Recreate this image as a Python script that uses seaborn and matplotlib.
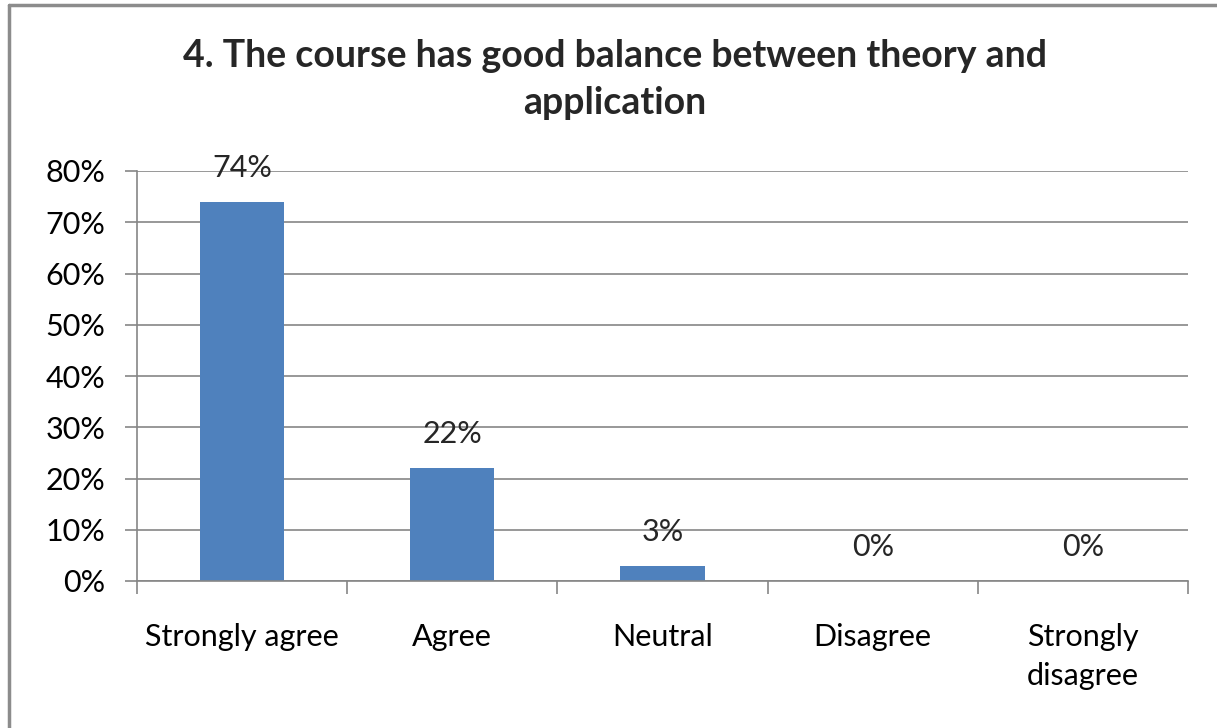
import matplotlib
matplotlib.use("Agg")
import matplotlib.pyplot as plt
from matplotlib.lines import Line2D
from matplotlib.ticker import FixedLocator, PercentFormatter
import seaborn as sns
import pandas as pd

# survey answers
categories = ["Strongly agree", "Agree", "Neutral", "Disagree", "Strongly\ndisagree"]
percentages = [74, 22, 3, 0, 0]
y_ticks = [0, 10, 20, 30, 40, 50, 60, 70, 80]
title = "4. The course has good balance between theory and\napplication"

sns.set_style("white")
plt.rcParams['font.family'] = ['Lato', 'DejaVu Sans']

df = pd.DataFrame({"answer": categories, "pct": percentages})

fig = plt.figure(figsize=(12.17, 7.28), dpi=100)
ax = fig.add_axes([137 / 1217, 1 - 581 / 728, (1188 - 137) / 1217, (581 - 171) / 728])

sns.barplot(data=df, x="answer", y="pct", color="#4F81BD", width=0.4,
            saturation=1, ax=ax, edgecolor="none")

ax.set_xlim(-0.5, len(categories) - 0.5)
ax.set_ylim(0, 80)
ax.set_xlabel("")
ax.set_ylabel("")

# grid + axes in excel grey
grey = "#868686"
ax.yaxis.set_major_locator(FixedLocator(y_ticks))
ax.yaxis.set_major_formatter(PercentFormatter(decimals=0))
ax.grid(axis="y", color=grey, linewidth=1.2)
ax.set_axisbelow(True)
for side in ["top", "right"]:
    ax.spines[side].set_visible(False)
for side in ["left", "bottom"]:
    ax.spines[side].set_color(grey)
    ax.spines[side].set_linewidth(1.2)

ax.tick_params(axis="y", length=9, width=1.2, color=grey, pad=14,
               labelsize=22, labelcolor="black", direction="out", left=True)
ax.tick_params(axis="x", which="major", length=0, pad=30, labelsize=22,
               labelcolor="black")
for lab in ax.get_xticklabels():
    lab.set_linespacing(1.5)
ax.xaxis.set_minor_locator(FixedLocator([i - 0.5 for i in range(len(categories) + 1)]))
ax.tick_params(axis="x", which="minor", length=9, width=1.2, color=grey,
               direction="out", bottom=True)

# data labels
for i, v in enumerate(percentages):
    ax.annotate(f"{v}%", (i, v), xytext=(0, 34), textcoords="offset pixels",
                ha="center", va="center", fontsize=22)

fig.suptitle(title, x=615 / 1217, y=1 - 39 / 728, va="top",
             fontsize=27, fontweight="bold", linespacing=1.47)

# chart frame (top + left edge visible)
fig.add_artist(Line2D([9 / 1217, 9 / 1217], [0, 1 - 5 / 728], transform=fig.transFigure,
                      color="#8c8c8c", linewidth=2.5))
fig.add_artist(Line2D([9 / 1217, 1], [1 - 5 / 728, 1 - 5 / 728], transform=fig.transFigure,
                      color="#8c8c8c", linewidth=2.5))

fig.savefig("out.png", dpi=100)
